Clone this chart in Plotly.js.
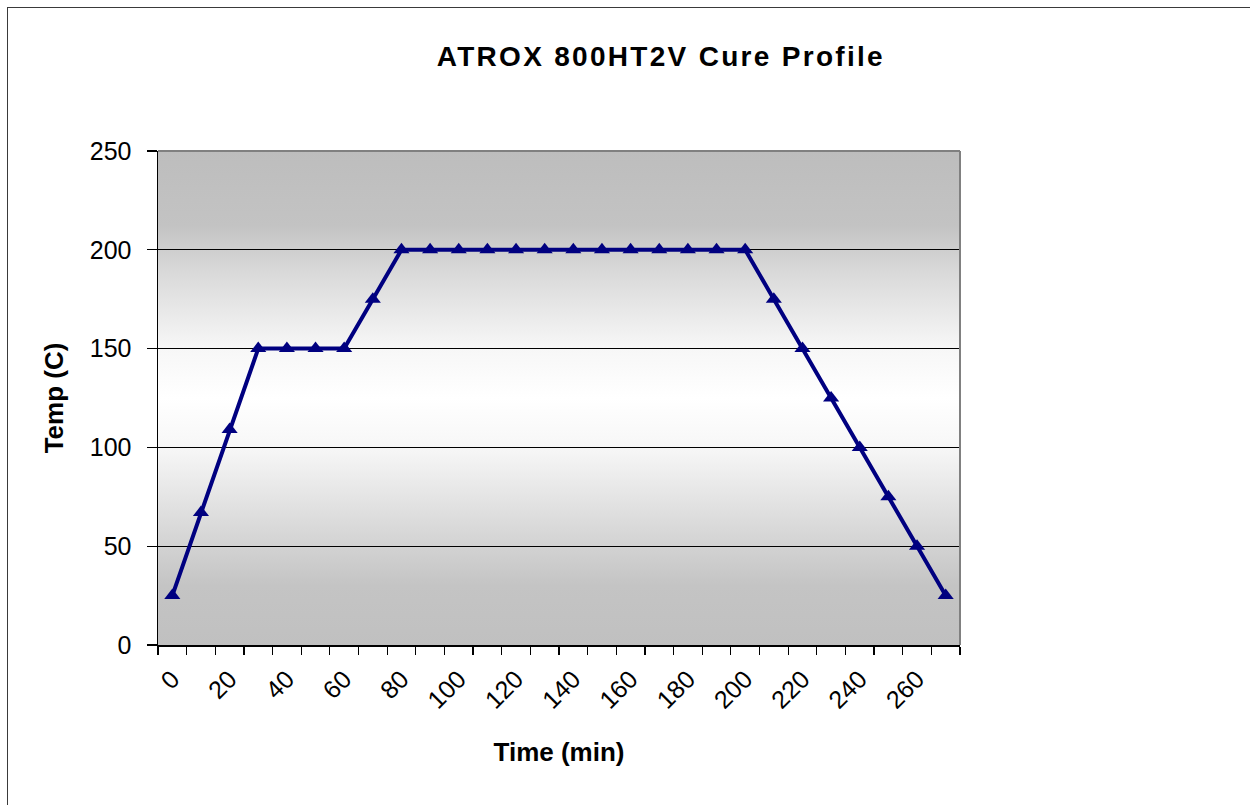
<!DOCTYPE html>
<html>
<head>
<meta charset="utf-8">
<script src="https://cdn.plot.ly/plotly-3.0.1.min.js"></script>
<style>
  html, body { margin: 0; padding: 0; background: #ffffff; overflow: hidden; }
  #chart { width: 1250px; height: 805px; position: absolute; left: 0; top: 0; }
  #frame { position: absolute; left: 7px; top: 7px; width: 2000px; height: 2000px;
           border-left: 1.5px solid #3a3a3a; border-top: 1.5px solid #3a3a3a; pointer-events: none; }
  #chart .gtitle { letter-spacing: 2.3px; }
</style>
</head>
<body>
<div id="chart"></div>
<div id="frame"></div>
<script>
// ---- data ----
const times = [0, 10, 20, 30, 40, 50, 60, 70, 80, 90, 100, 110, 120, 130, 140,
               150, 160, 170, 180, 190, 200, 210, 220, 230, 240, 250, 260, 270];
const temps = [25, 67, 109, 150, 150, 150, 150, 175, 200, 200, 200, 200, 200, 200, 200,
               200, 200, 200, 200, 200, 200, 175, 150, 125, 100, 75, 50, 25];
const xTickVals = [0, 20, 40, 60, 80, 100, 120, 140, 160, 180, 200, 220, 240, 260];
const xTickText = ["0", "20", "40", "60", "80", "100", "120", "140", "160", "180", "200", "220", "240", "260"];
const yTickVals = [0, 50, 100, 150, 200, 250];
const yTickText = ["0", "50", "100", "150", "200", "250"];
const titleText = "ATROX 800HT2V Cure Profile";
const xTitle = "Time (min)";
const yTitle = "Temp (C)";

// ---- background gradient (plot area) ----
const gradSvg =
  '<svg xmlns="http://www.w3.org/2000/svg" width="100" height="100" preserveAspectRatio="none">' +
  '<defs><linearGradient id="g" x1="0" y1="0" x2="0" y2="1">' +
  '<stop offset="0" stop-color="#bdbdbd"/>' +
  '<stop offset="0.15" stop-color="#c3c3c3"/>' +
  '<stop offset="0.25" stop-color="#dadada"/>' +
  '<stop offset="0.40" stop-color="#f7f7f7"/>' +
  '<stop offset="0.50" stop-color="#ffffff"/>' +
  '<stop offset="0.60" stop-color="#f7f7f7"/>' +
  '<stop offset="0.78" stop-color="#d6d6d6"/>' +
  '<stop offset="0.88" stop-color="#c4c4c4"/>' +
  '<stop offset="1" stop-color="#c0c0c0"/>' +
  '</linearGradient></defs><rect width="100" height="100" fill="url(#g)"/></svg>';
const gradURI = 'data:image/svg+xml;base64,' + btoa(gradSvg);

const FONT = '"Liberation Sans", Arial, sans-serif';

const trace = {
  x: times,
  y: temps,
  type: 'scatter',
  mode: 'lines+markers',
  line: { color: '#000080', width: 4 },
  marker: { symbol: 'triangle-up', size: 14, color: '#000080' },
  hoverinfo: 'x+y',
  showlegend: false
};

const layout = {
  width: 1250,
  height: 805,
  margin: { l: 158, r: 290, t: 151, b: 160, pad: 0 },
  paper_bgcolor: '#ffffff',
  plot_bgcolor: 'rgba(0,0,0,0)',
  font: { family: FONT, color: '#000000' },
  title: {
    text: titleText,
    font: { family: FONT, size: 28, color: '#000000', weight: 'bold' },
    xref: 'paper', x: 0.627, xanchor: 'center',
    yref: 'container', y: 0.930, yanchor: 'middle'
  },
  xaxis: {
    type: 'linear',
    range: [-5, 275],
    tickmode: 'array',
    tickvals: xTickVals,
    ticktext: xTickText,
    tickangle: -45,
    ticks: 'outside',
    ticklen: 8,
    tickcolor: 'rgba(0,0,0,0)',
    tickfont: { family: FONT, size: 25, color: '#000000' },
    showgrid: false,
    zeroline: false,
    showline: true,
    linecolor: '#000000',
    linewidth: 1.5,
    minor: { tick0: -5, dtick: 10, ticks: 'outside', ticklen: 8, tickcolor: '#000000', tickwidth: 1.2, showgrid: false },
    title: { text: xTitle, font: { family: FONT, size: 26, color: '#000000', weight: 'bold' }, standoff: 30 },
    fixedrange: true
  },
  yaxis: {
    range: [0, 250],
    tickmode: 'array',
    tickvals: yTickVals,
    ticktext: yTickText,
    ticks: 'outside',
    ticklen: 10,
    tickwidth: 1.2,
    tickcolor: '#000000',
    ticklabelstandoff: 10,
    tickfont: { family: FONT, size: 25, color: '#000000' },
    showgrid: true,
    gridcolor: '#000000',
    gridwidth: 1,
    zeroline: false,
    showline: true,
    linecolor: '#000000',
    linewidth: 1.5,
    title: { text: yTitle, font: { family: FONT, size: 26, color: '#000000', weight: 'bold' }, standoff: 18 },
    fixedrange: true
  },
  images: [{
    source: gradURI,
    xref: 'paper', yref: 'paper',
    x: 0, y: 1, sizex: 1, sizey: 1,
    xanchor: 'left', yanchor: 'top',
    sizing: 'stretch',
    layer: 'below'
  }],
  shapes: [
    { type: 'line', xref: 'paper', yref: 'paper', x0: 0, x1: 1, y0: 1, y1: 1,
      line: { color: '#808080', width: 2 }, layer: 'above' },
    { type: 'line', xref: 'paper', yref: 'paper', x0: 1, x1: 1, y0: 0, y1: 1,
      line: { color: '#808080', width: 2 }, layer: 'above' }
  ]
};

Plotly.newPlot('chart', [trace], layout, { displayModeBar: false, staticPlot: true });
</script>
</body>
</html>
